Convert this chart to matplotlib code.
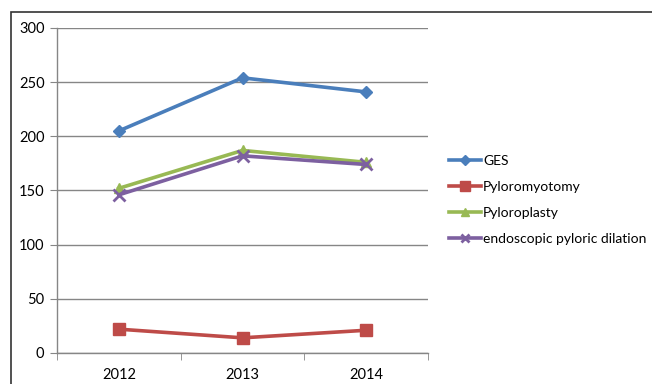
import matplotlib.pyplot as plt
from matplotlib.patches import Rectangle

plt.rcParams['font.family'] = ['Lato', 'DejaVu Sans']

# data
years = ['2012', '2013', '2014']
ges = [205, 254, 241]
pyloromyotomy = [22, 14, 21]
pyloroplasty = [152, 187, 176]
endoscopic = [146, 182, 174]

series = [
    ('GES', ges, '#4A7EBB', 'D', 6),
    ('Pyloromyotomy', pyloromyotomy, '#BE4B48', 's', 9),
    ('Pyloroplasty', pyloroplasty, '#98B954', '^', 7),
    ('endoscopic pyloric dilation', endoscopic, '#7D60A0', 'x', 8),
]

fig = plt.figure(figsize=(6.52, 3.84), dpi=100)
ax = fig.add_axes([57 / 652, 1 - 353 / 384, (428 - 57) / 652, (353 - 28) / 384])

x = list(range(len(years)))
for name, vals, col, mk, ms in series:
    ax.plot(x, vals, color=col, linewidth=2.6, marker=mk, markersize=ms,
            markeredgewidth=2 if mk == 'x' else 1, markeredgecolor=col,
            markerfacecolor=col, label=name)

ax.set_ylim(0, 300)
ax.set_yticks(range(0, 301, 50))
ax.set_xlim(-0.5, 2.5)
ax.set_xticks(x)
ax.set_xticklabels(years)
ax.set_xticks([-0.5, 0.5, 1.5, 2.5], minor=True)
ax.tick_params(axis='x', which='major', length=0, pad=11, labelsize=10.5)
ax.tick_params(axis='x', which='minor', length=5, color='#868686')
ax.tick_params(axis='y', length=5, color='#868686', labelsize=10.5, pad=4)
ax.grid(axis='y', color='#868686', linewidth=1)
ax.set_axisbelow(True)
for s in ['top', 'right']:
    ax.spines[s].set_visible(False)
for s in ['left', 'bottom']:
    ax.spines[s].set_color('#868686')
    ax.spines[s].set_linewidth(1)

leg = fig.legend(loc='center left', bbox_to_anchor=(449 / 652, 1 - 200 / 384),
                 frameon=False, fontsize=10, handlelength=2.3, handletextpad=0.15,
                 borderpad=0, borderaxespad=0, labelspacing=1.0, markerscale=0.8)

# outer chart border
fig.patches.append(Rectangle((11 / 652, -0.01), 2, 1 - 12 / 384 + 0.01,
                             transform=fig.transFigure, fill=False,
                             edgecolor='#333333', linewidth=1.2))

fig.savefig('out.png', dpi=100)
